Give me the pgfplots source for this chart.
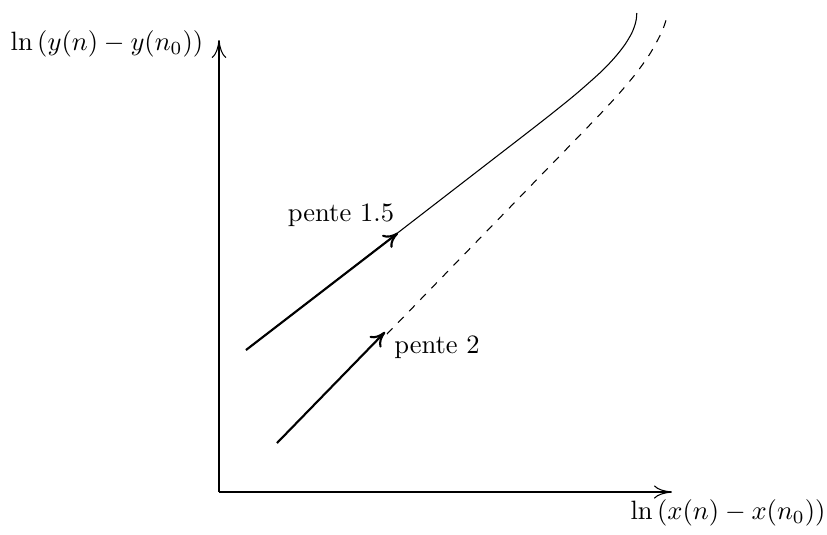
\documentclass[border=0pt]{standalone}
\usepackage{pgfplots}
\pgfplotsset{compat=1.18}
\usetikzlibrary{arrows.meta}
\begin{document}
\begin{tikzpicture}
\begin{axis}[
  x=0.377pt, y=0.377pt,
  xmin=219, xmax=672, ymin=42, ymax=494,
  enlargelimits=false,
  axis lines=left,
  axis line style={line width=0.4pt},
  every outer x axis line/.append style={-{To[length=6.8pt,width=5pt]}},
  every outer y axis line/.append style={-{To[length=6.8pt,width=5.5pt]}},
  xtick=\empty, ytick=\empty,
  clip=false,
]
% page frame in picture units
\coordinate (bl) at (axis cs:0,0);
\coordinate (tr) at (axis cs:827,534);

% solid curve
\addplot[black, smooth, tension=0.5] coordinates {
  (246,184) (271.9,204) (297.8,224) (323.7,244) (349.6,264) (375.5,284)
  (401.4,304) (427.3,324) (453.2,344) (479.1,364) (499.8,380)
  (525.7,400) (551.3,420) (576,440) (598.7,460) (608.8,470)
  (617.7,480) (625.3,490) (631.3,500) (633.5,505) (635.2,510)
  (636.3,515) (636.8,521)
};
% dashed curve
\addplot[black, dashed, smooth, tension=0.5] coordinates {
  (387,200) (411.3,225) (435.5,250) (459.8,275) (484,300) (508.3,325)
  (532.5,350) (556.8,375) (581,400) (600.3,420) (618.7,440) (635.5,460)
  (649.8,480) (660.8,500) (664.8,510) (667.4,519)
};

% slope arrows
\addplot[black, thick, -{To[length=5.5pt,width=6pt]}] coordinates {(246,184) (398,301)};
\addplot[black, thick, -{To[length=5.5pt,width=6pt]}] coordinates {(277,91) (385,202)};

\node at (axis cs:341,319) {pente 1.5};
\node at (axis cs:437,187) {pente 2};

\node at (axis cs:107,490) {$\ln\left(y(n)-y(n_0)\right)$};
\node at (axis cs:728,21) {$\ln\left(x(n)-x(n_0)\right)$};
\end{axis}
\pgfresetboundingbox
\path[use as bounding box] (bl) rectangle (tr);
\end{tikzpicture}
\end{document}
